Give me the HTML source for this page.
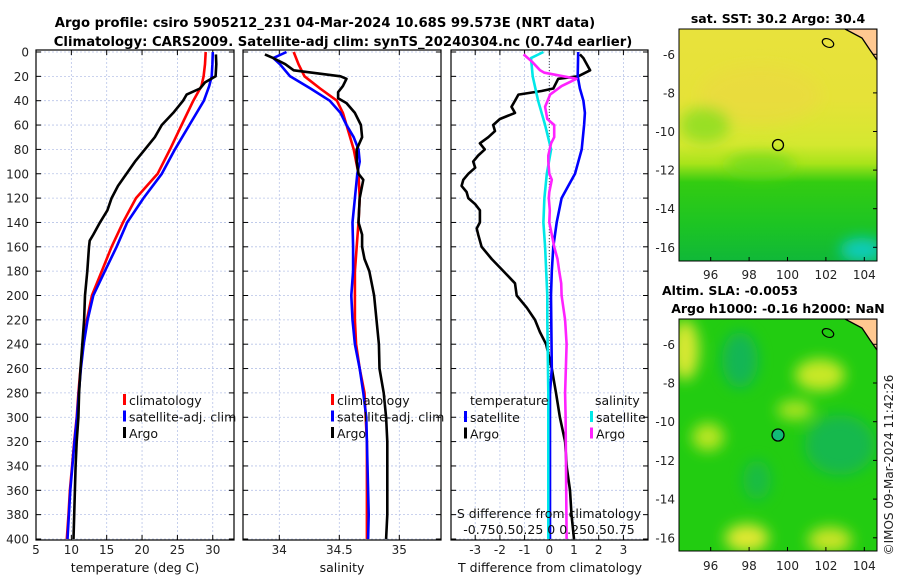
<!DOCTYPE html>
<html><head><meta charset="utf-8">
<style>
html,body{margin:0;padding:0;background:#fff;}
svg{display:block;font-family:"DejaVu Sans","Liberation Sans",sans-serif;}
.t{font-size:12px;fill:#222;}
.ti{font-size:13.2px;font-weight:bold;fill:#000;}
.tm{font-size:12.5px;font-weight:bold;fill:#000;}
.lg{font-size:12.5px;fill:#111;}
</style></head>
<body>
<svg id="chart" width="900" height="580" viewBox="0 0 900 580">
<defs>
<linearGradient id="sstg" x1="0" y1="0" x2="0" y2="1">
<stop offset="0" stop-color="#e8e23c"/><stop offset="0.3" stop-color="#e6e238"/>
<stop offset="0.5" stop-color="#d4e830"/><stop offset="0.58" stop-color="#a8e41a"/>
<stop offset="0.66" stop-color="#33cc11"/><stop offset="0.85" stop-color="#1cc424"/>
<stop offset="1" stop-color="#10b838"/></linearGradient>
<filter id="bl" x="-50%" y="-50%" width="200%" height="200%"><feGaussianBlur stdDeviation="7"/></filter>
<clipPath id="c1"><rect x="679" y="29" width="198" height="232"/></clipPath>
<clipPath id="c2"><rect x="679" y="319" width="198" height="232"/></clipPath>
</defs>
<text class="ti" x="325" y="27" text-anchor="middle">Argo profile: csiro 5905212_231 04-Mar-2024 10.68S 99.573E (NRT data)</text>
<text class="ti" x="343" y="46" text-anchor="middle">Climatology: CARS2009. Satellite-adj clim: synTS_20240304.nc (0.74d earlier)</text>
<g id="p1"></g>
<g id="p2"></g>
<g id="p3"></g>

<g>
<text class="tm" x="778" y="23" text-anchor="middle">sat. SST: 30.2 Argo: 30.4</text>
<g clip-path="url(#c1)">
<rect x="679" y="29" width="198" height="232" fill="url(#sstg)"/>
<g filter="url(#bl)">
<ellipse cx="760" cy="95" rx="60" ry="30" fill="#eed840" opacity="0.5"/>
<ellipse cx="705" cy="125" rx="25" ry="18" fill="#88dd22" opacity="0.8"/>
<ellipse cx="862" cy="250" rx="22" ry="12" fill="#11ccbb"/>
<ellipse cx="760" cy="165" rx="35" ry="12" fill="#66d818" opacity="0.7"/>
</g>
<polygon points="845,29 877,29 877,60 870,50 862,38" fill="#ffc890" stroke="#000" stroke-width="1.3"/>
<ellipse cx="828" cy="43" rx="6" ry="4" fill="none" stroke="#000" stroke-width="1.2" transform="rotate(25 828 43)"/>
</g>
<circle cx="778" cy="145" r="5.5" fill="none" stroke="#000" stroke-width="1.3"/>
<rect x="679" y="29" width="198" height="232" fill="none" stroke="#000" stroke-width="1"/>
</g>

<g>
<text class="tm" x="730" y="295" text-anchor="middle">Altim. SLA: -0.0053</text>
<text class="tm" x="778" y="313" text-anchor="middle">Argo h1000: -0.16 h2000: NaN</text>
<g clip-path="url(#c2)">
<rect x="679" y="319" width="198" height="232" fill="#22cc11"/>
<g filter="url(#bl)">
<ellipse cx="685" cy="350" rx="14" ry="30" fill="#d8e830"/>
<ellipse cx="820" cy="375" rx="25" ry="16" fill="#c8e828"/>
<ellipse cx="795" cy="410" rx="18" ry="10" fill="#a8e420"/>
<ellipse cx="708" cy="437" rx="16" ry="14" fill="#b8e624"/>
<ellipse cx="747" cy="538" rx="22" ry="14" fill="#e0e830"/>
<ellipse cx="830" cy="540" rx="22" ry="13" fill="#c8e428"/>
<ellipse cx="740" cy="360" rx="18" ry="28" fill="#11b066" opacity="0.8"/>
<ellipse cx="840" cy="445" rx="35" ry="30" fill="#11b066" opacity="0.7"/>
<ellipse cx="757" cy="480" rx="14" ry="20" fill="#11b066" opacity="0.6"/>
</g>
<polygon points="845,319 877,319 877,350 870,340 862,328" fill="#ffc890" stroke="#000" stroke-width="1.3"/>
<ellipse cx="828" cy="333" rx="6" ry="4" fill="none" stroke="#000" stroke-width="1.2" transform="rotate(25 828 333)"/>
</g>
<circle cx="778" cy="435" r="6" fill="#11bb77" stroke="#000" stroke-width="1.3"/>
<rect x="679" y="319" width="198" height="232" fill="none" stroke="#000" stroke-width="1"/>
</g>
<text class="t" x="0" y="0" transform="translate(893,465) rotate(-90)" text-anchor="middle">©IMOS 09-Mar-2024 11:42:26</text>
</svg>
<script>
// ---- data ----
const climDepth = [0,10,20,28,40,60,80,100,120,140,160,180,200,220,240,260,280,300,320,340,360,380,400];
const climTemp  = [29.0,28.9,28.7,28.4,27.25,25.6,23.95,22.2,19.15,17.3,15.7,14.3,12.9,12.2,11.7,11.3,11.0,10.75,10.4,10.1,9.8,9.6,9.35];
const satTemp   = [30.0,29.95,29.85,29.5,28.75,26.7,24.65,22.8,20.2,17.9,16.4,14.75,13.1,12.3,11.75,11.35,11.05,10.8,10.45,10.15,9.85,9.65,9.45];
const argoTDepth = [2,10,20,25,30,35,40,50,60,70,80,90,100,110,120,130,140,150,155,160,180,200,220,240,260,280,300,320,340,360,380,400];
const argoTemp   = [30.45,30.5,30.4,28.9,28.2,26.3,25.8,24.4,22.8,21.8,20.4,19.0,17.8,16.6,15.7,15.1,14.05,13.1,12.6,12.5,12.25,11.93,11.8,11.55,11.3,11.1,11.0,10.75,10.6,10.5,10.4,10.3];

const climSDepth = [0,10,20,30,40,50,60,80,100,120,140,160,180,200,220,240,260,280,300,320,360,400];
const climSal    = [34.12,34.16,34.21,34.34,34.48,34.53,34.56,34.62,34.66,34.67,34.66,34.645,34.63,34.63,34.63,34.64,34.67,34.71,34.72,34.73,34.73,34.73];
const satSDepth  = [0,5,10,20,30,40,50,60,70,80,90,100,120,140,160,180,200,220,240,260,280,300,340,380,400];
const satSal     = [34.06,33.95,34.005,34.09,34.26,34.42,34.51,34.56,34.62,34.66,34.67,34.65,34.63,34.61,34.615,34.615,34.60,34.61,34.63,34.67,34.70,34.725,34.735,34.745,34.74];
const argoSDepth = [2,5,10,15,20,22,28,33,38,42,50,60,70,80,90,100,105,120,140,150,160,170,180,190,200,220,240,260,280,300,320,350,380,400];
const argoSal    = [33.88,33.95,34.05,34.12,34.51,34.56,34.53,34.49,34.49,34.56,34.63,34.68,34.69,34.645,34.645,34.66,34.70,34.67,34.66,34.69,34.69,34.71,34.75,34.77,34.79,34.81,34.83,34.835,34.87,34.89,34.90,34.90,34.90,34.89];

const dTDepth   = [0,20,30,40,50,60,80,100,110,120,140,160,180,200,260,280,300,340,400];
const satTDiff  = [1.17,1.15,1.24,1.38,1.44,1.41,1.31,1.04,0.77,0.50,0.30,0.16,0.10,0.07,0.1,0.03,0.03,0.03,0.03];
const argoDDepth = [2,5,15,20,22,30,32,35,40,45,50,55,60,65,70,75,80,85,90,95,100,105,110,115,120,125,130,140,145,150,155,160,170,180,190,200,210,220,230,240,260,280,300,320,340,360,380,400];
const argoTDiff  = [1.24,1.38,1.65,1.17,0.36,0.16,-0.31,-1.25,-1.39,-1.53,-1.39,-2.0,-2.27,-2.2,-2.47,-2.81,-2.61,-2.88,-3.08,-3.0,-3.28,-3.48,-3.55,-3.35,-3.28,-3.0,-2.81,-2.81,-2.94,-2.88,-2.81,-2.74,-2.33,-1.86,-1.39,-1.32,-0.91,-0.58,-0.38,-0.13,0.1,0.27,0.43,0.64,0.7,0.84,0.9,1.0];
const dSDepth   = [0,5,20,40,60,80,100,120,140,160,200,220,280,400];
const satSDiff  = [-0.06,-0.185,-0.168,-0.113,-0.043,0.018,-0.025,-0.05,-0.06,-0.043,-0.02,-0.02,-0.01,-0.01];
const argoSDDepth = [2,8,15,17,22,28,35,45,55,60,70,75,85,90,100,105,115,120,130,140,150,160,170,180,190,200,220,240,280,300,400];
const argoSDiff   = [-0.26,-0.175,-0.093,-0.05,0.275,0.125,0.008,-0.043,-0.02,0.05,0.05,0.018,-0.01,-0.01,0.0,0.025,0.0,-0.005,0.005,0.0,0.025,0.05,0.083,0.1,0.12,0.125,0.16,0.175,0.16,0.165,0.175];

const depthTicks = [0,20,40,60,80,100,120,140,160,180,200,220,240,260,280,300,320,340,360,380,400];
const tTicks = [5,10,15,20,25,30];
const sTicks = [34,34.5,35];
const dTicks = [-3,-2,-1,0,1,2,3];
const sdTickLabels = ["-0.75","0.5","0.25","0","0.25","0.5","0.75"];
const mapLonTicks = [96,98,100,102,104];
const mapLatTicks = [-6,-8,-10,-12,-14,-16];

// ---- axes ----
const Y0=52, Y1=539;
const yD = d => Y0 + d*(Y1-Y0)/400;
const xT = t => 36 + (t-5)*7.07;
const xS = s => 279.3 + (s-34)*120;
const xD = v => 549.3 + v*24.7;
const xSD = s => 549.3 + s*98.8;
const lonX = l => 710.7 + (l-96)*19.2;
const latY1 = l => 54.3 + (-6-l)*19.3;
const latY2 = l => 344.3 + (-6-l)*19.35;

const NS='http://www.w3.org/2000/svg';
const svg=document.getElementById('chart');
function mk(tag, attrs, parent){const e=document.createElementNS(NS,tag);for(const k in attrs)e.setAttribute(k,attrs[k]);(parent||svg).appendChild(e);return e;}

function panel(g, L, R, xTicks, xf, labels, name){
  for(const d of depthTicks){const y=yD(d);
    const gl=mk('line',{x1:L,x2:R,y1:y,y2:y,stroke:'#b8c4e8','stroke-width':0.8,'stroke-dasharray':'2,2'},g);
    
    
    mk('line',{x1:L,x2:L+5,y1:y,y2:y,stroke:'#000'},g);
    mk('line',{x1:R-5,x2:R,y1:y,y2:y,stroke:'#000'},g);
  }
  xTicks.forEach((t,i)=>{const x=xf(t);
    const gl=mk('line',{x1:x,x2:x,y1:Y0-2,y2:Y1+1,stroke:'#b8c4e8','stroke-width':0.8,'stroke-dasharray':'2,2'},g);
    
    
    mk('line',{x1:x,x2:x,y1:Y1+1,y2:Y1-4,stroke:'#000'},g);
    mk('line',{x1:x,x2:x,y1:Y0-2,y2:Y0+3,stroke:'#000'},g);
    const tx=mk('text',{x:x,y:554,'text-anchor':'middle',class:'t'},g);
    tx.textContent=labels[i];
    
    
  });
  const fr=mk('rect',{x:L,y:Y0-2,width:R-L,height:Y1-Y0+3,fill:'none',stroke:'#000','stroke-width':1.2},g);
  
  
}
function line(g, xs, ds, xf, color, name){
  const pts=xs.map((v,i)=>xf(v).toFixed(1)+','+yD(ds[i]).toFixed(1)).join(' ');
  const p=mk('polyline',{points:pts,fill:'none',stroke:color,'stroke-width':2.6,'stroke-linejoin':'round'},g);
  
  
}
function legend(g,x,y,items){
  items.forEach((it,i)=>{
    mk('rect',{x:x,y:y+i*16.5-11,width:3,height:11,fill:it[1]},g);
    const t=mk('text',{x:x+6,y:y+i*16.5,class:'lg'},g);t.textContent=it[0];
    
    
  });
}
const p1=document.getElementById('p1'),p2=document.getElementById('p2'),p3=document.getElementById('p3');
panel(p1,36,234,tTicks,xT,tTicks.map(String),'temperature-axis');
panel(p2,243,441,sTicks,xS,["34","34.5","35"],'salinity-axis');
panel(p3,451,648,dTicks,xD,dTicks.map(String),'t-diff-axis');
depthTicks.forEach(d=>{const t=mk('text',{x:29,y:yD(d)+4.5,'text-anchor':'end',class:'t'});t.textContent=d;
  
  });

line(p1,climTemp,climDepth,xT,'#ff0000','temp-climatology-line');
line(p1,satTemp,climDepth,xT,'#0000ff','temp-satellite-line');
line(p1,argoTemp,argoTDepth,xT,'#000000','temp-argo-line');
line(p2,climSal,climSDepth,xS,'#ff0000','sal-climatology-line');
line(p2,satSal,satSDepth,xS,'#0000ff','sal-satellite-line');
line(p2,argoSal,argoSDepth,xS,'#000000','sal-argo-line');
mk('line',{x1:549.3,x2:549.3,y1:Y0,y2:Y1,stroke:'#444','stroke-width':1,'stroke-dasharray':'1,2'},p3);
line(p3,argoTDiff,argoDDepth,xD,'#000000','tdiff-argo-line');
line(p3,satTDiff,dTDepth,xD,'#0000ff','tdiff-satellite-line');
line(p3,satSDiff,dSDepth,xSD,'#00e8e8','sdiff-satellite-line');
line(p3,argoSDiff,argoSDDepth,xSD,'#ff22ff','sdiff-argo-line');

legend(p1,123,405,[['climatology','#ff0000'],['satellite-adj. clim','#0000ff'],['Argo','#000000']]);
legend(p2,331,405,[['climatology','#ff0000'],['satellite-adj. clim','#0000ff'],['Argo','#000000']]);
let tt=mk('text',{x:470,y:405,class:'lg'},p3);tt.textContent='temperature';


tt=mk('text',{x:595,y:405,class:'lg'},p3);tt.textContent='salinity';


legend(p3,464,422,[['satellite','#0000ff'],['Argo','#000000']]);
legend(p3,590,422,[['satellite','#00e8e8'],['Argo','#ff22ff']]);

let sl=mk('text',{x:549,y:518,'text-anchor':'middle',class:'lg'},p3);sl.textContent='S difference from climatology';


sl=mk('text',{x:549,y:534,'text-anchor':'middle',class:'lg'},p3);sl.textContent=sdTickLabels.slice(0,3).join('')+' '+sdTickLabels[3]+' '+sdTickLabels.slice(4).join('');



[[135,'temperature (deg C)','x-axis-title-temperature'],[342,'salinity','x-axis-title-salinity'],[550,'T difference from climatology','x-axis-title-tdiff']].forEach(a=>{
  const t=mk('text',{x:a[0],y:572,'text-anchor':'middle',class:'lg'});t.textContent=a[1];
  
  });

mapLonTicks.forEach(l=>{const x=lonX(l);
  [[261,275],[551,566]].forEach(p=>{mk('line',{x1:x,x2:x,y1:p[0],y2:p[0]-4,stroke:'#000'});
    const t=mk('text',{x:x,y:p[1]+4,'text-anchor':'middle',class:'t'});t.textContent=l;
    
    });
});
mapLatTicks.forEach(l=>{
  [latY1(l),latY2(l)].forEach(y=>{mk('line',{x1:873,x2:877,y1:y,y2:y,stroke:'#000'});
    const t=mk('text',{x:675,y:y+4.5,'text-anchor':'end',class:'t'});t.textContent=l;
    
    });
});
</script>
</body></html>
